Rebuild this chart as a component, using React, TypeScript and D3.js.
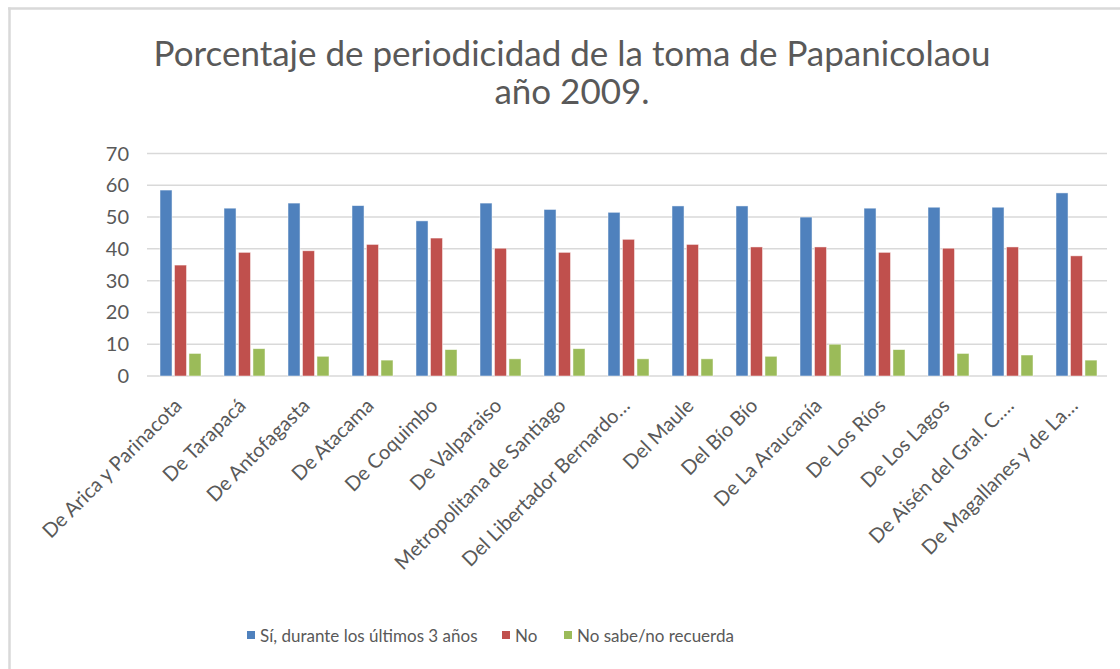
import React from 'react';
import * as d3 from 'd3';

const categories = [
  'De Arica y Parinacota', 'De Tarapacá', 'De Antofagasta', 'De Atacama', 'De Coquimbo',
  'De Valparaiso', 'Metropolitana de Santiago', 'Del Libertador Bernardo…', 'Del Maule',
  'Del Bío Bío', 'De La Araucanía', 'De Los Ríos', 'De Los Lagos', 'De Aisén del Gral. C.…',
  'De Magallanes y de La…',
];
const seriesNames = ['Sí, durante los últimos 3 años', 'No', 'No sabe/no recuerda'];
const si = [58.5, 52.8, 54.4, 53.6, 48.8, 54.4, 52.4, 51.5, 53.5, 53.5, 50.0, 52.8, 53.1, 53.1, 57.6];
const no = [34.9, 38.9, 39.4, 41.4, 43.4, 40.2, 38.9, 43.0, 41.4, 40.6, 40.6, 38.9, 40.2, 40.6, 37.8];
const noSabe = [7.1, 8.6, 6.2, 5.0, 8.3, 5.4, 8.6, 5.4, 5.4, 6.2, 10.0, 8.3, 7.1, 6.6, 5.0];
const yTicks = [0, 10, 20, 30, 40, 50, 60, 70];
const colors = ['#4f81bd', '#c0504d', '#9bbb59'];

const FONT = 'Lato, "Open Sans", sans-serif';
const TEXT = '#595959';

export default function App() {
  const width = 1120;
  const height = 669;
  const x = d3.scaleBand<string>().domain(categories).range([147, 1107]);
  const inner = d3.scaleBand<number>().domain([0, 1, 2]).range([13, 54]).paddingInner(0.17);
  const y = d3.scaleLinear().domain([0, 70]).range([376, 153.5]);
  const series = [si, no, noSabe];

  // legend marker x positions
  const legendX = [247, 502, 564];

  return (
    <svg width={width} height={height} style={{ position: 'absolute', left: 0, top: 0 }}>
      <rect x={0} y={0} width={width} height={height} fill="#fff" />
      <line x1={9.5} x2={9.5} y1={7.5} y2={height} stroke="#d9d9d9" strokeWidth={2.5} />
      <line x1={8} x2={width} y1={8.5} y2={8.5} stroke="#d9d9d9" strokeWidth={2.5} />

      <text x={572} y={66} textAnchor="middle" fontFamily={FONT} fontSize={35} fill={TEXT}>
        Porcentaje de periodicidad de la toma de Papanicolaou
      </text>
      <text x={572} y={104} textAnchor="middle" fontFamily={FONT} fontSize={35} fill={TEXT}>
        año 2009.
      </text>

      {yTicks.map(t => (
        <g key={t}>
          <line x1={147} x2={1107} y1={y(t)} y2={y(t)} stroke="#d9d9d9" strokeWidth={1.5} />
          <text x={129} y={y(t) + 7} textAnchor="end" fontFamily={FONT} fontSize={20} fill={TEXT}>
            {t}
          </text>
        </g>
      ))}

      {categories.map((c, i) => (
        <g key={c} transform={`translate(${x(c)},0)`}>
          {series.map((s, k) => (
            <rect
              key={k}
              x={inner(k)}
              y={y(s[i])}
              width={inner.bandwidth()}
              height={y(0) - y(s[i])}
              fill={colors[k]}
              stroke="#fff"
              strokeOpacity={0.6}
              strokeWidth={0.8}
            />
          ))}
        </g>
      ))}

      {categories.map(c => {
        const cx = (x(c) as number) + x.bandwidth() / 2 + 4;
        return (
          <text
            key={c}
            transform={`translate(${cx},407) rotate(-45)`}
            textAnchor="end"
            fontFamily={FONT}
            fontSize={20}
            fill={TEXT}
          >
            {c}
          </text>
        );
      })}

      {seriesNames.map((n, k) => (
        <g key={n}>
          <rect x={legendX[k]} y={631} width={8} height={8} fill={colors[k]} />
          <text x={legendX[k] + 13} y={642} fontFamily={FONT} fontSize={17} fill={TEXT}>
            {n}
          </text>
        </g>
      ))}
    </svg>
  );
}
